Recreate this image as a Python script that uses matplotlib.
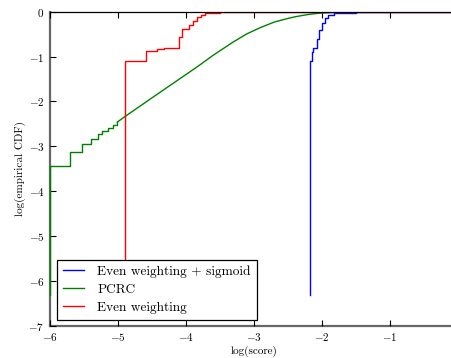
import matplotlib
matplotlib.use("Agg")
import matplotlib.pyplot as plt

# Even weighting + sigmoid (blue), step CDF
blue_x = [-2.18, -2.18, -2.15, -2.13, -2.08, -2.04, -2.00, -1.96, -1.91, -1.83, -1.70, -1.50, 0.0]
blue_y = [-6.31, -1.11, -0.89, -0.82, -0.60, -0.41, -0.26, -0.15, -0.08, -0.04, -0.02, -0.005, 0.0]

# PCRC (green): steps at the low end, then smooth curve
green_step_x = [-6.00, -6.00, -5.70, -5.53, -5.40, -5.30, -5.23, -5.15, -5.08, -5.01]
green_step_y = [-6.31, -3.44, -3.13, -2.95, -2.83, -2.73, -2.66, -2.59, -2.52, -2.46]
green_curve_x = [-5.01, -4.90, -4.50, -4.00, -3.79, -3.60, -3.40, -3.30, -3.20, -3.10, -3.00,
                 -2.90, -2.80, -2.70, -2.60, -2.50, -2.40, -2.30, -2.20, -2.10, -2.00,
                 -1.90, -1.70, -1.50, -1.00, 0.0]
green_curve_y = [-2.46, -2.34, -1.92, -1.40, -1.18, -0.97, -0.77, -0.67, -0.58, -0.49, -0.42,
                 -0.35, -0.29, -0.23, -0.19, -0.15, -0.115, -0.087, -0.062, -0.043, -0.03,
                 -0.02, -0.01, -0.005, -0.001, 0.0]

# Even weighting (red), step CDF
red_x = [-4.90, -4.90, -4.59, -4.43, -4.33, -4.22, -4.11, -4.06, -3.96, -3.90, -3.84, -3.78, -3.72, -3.65, -3.50, -3.20, 0.0]
red_y = [-6.31, -1.09, -0.88, -0.84, -0.82, -0.80, -0.57, -0.38, -0.29, -0.21, -0.12, -0.07, -0.04, -0.02, -0.01, 0.0, 0.0]

xticks = [-6, -5, -4, -3, -2, -1]
yticks = [0, -1, -2, -3, -4, -5, -6, -7]

plt.rcParams['font.family'] = ['cmr10', 'DejaVu Serif']
plt.rcParams['mathtext.fontset'] = 'cm'
plt.rcParams['axes.formatter.use_mathtext'] = True
plt.rcParams['axes.unicode_minus'] = True

fig = plt.figure(figsize=(4.52, 3.58), dpi=100)
ax = fig.add_axes([50/452, 1 - 325.7/358, 408/452, 314/358])

ax.plot(blue_x, blue_y, color='#0000ff', lw=1.0, drawstyle='steps-post',
        label='Even weighting + sigmoid')
ax.plot(green_step_x, green_step_y, color='#008000', lw=1.0, drawstyle='steps-post',
        label='PCRC', clip_on=False)
ax.plot(green_curve_x, green_curve_y, color='#008000', lw=1.0)
ax.plot(red_x, red_y, color='#ff0000', lw=1.0, drawstyle='steps-post',
        label='Even weighting')

ax.set_xlim(-6, 0)
ax.set_ylim(-7, 0)
ax.set_xticks(xticks)
ax.set_yticks(yticks)
ax.set_xticklabels(['$-%d$' % (-t) for t in xticks])
ax.set_yticklabels(['$0$' if t == 0 else '$-%d$' % (-t) for t in yticks])
ax.tick_params(direction='in', length=4, width=0.8, labelsize=8,
               top=True, right=True, pad=4)
for s in ['left', 'bottom']:
    ax.spines[s].set_color('#666666')
    ax.spines[s].set_linewidth(1.6)
    ax.spines[s].set_zorder(1)
for s in ['top', 'right']:
    ax.spines[s].set_color('black')
    ax.spines[s].set_linewidth(0.9)

ax.set_xlabel('log(score)', fontsize=8, labelpad=2)
ax.set_ylabel('log(empirical CDF)', fontsize=8, labelpad=2)

leg = ax.legend(loc='lower left', bbox_to_anchor=(6.7/408, 5.7/314), fontsize=9.6,
                frameon=True, fancybox=False, framealpha=1, edgecolor='black',
                borderaxespad=0, handlelength=1.6, handletextpad=1.0,
                labelspacing=0.42, borderpad=0.45)
leg.get_frame().set_linewidth(0.9)
leg.set_zorder(10)

fig.savefig('out.png', dpi=100)
